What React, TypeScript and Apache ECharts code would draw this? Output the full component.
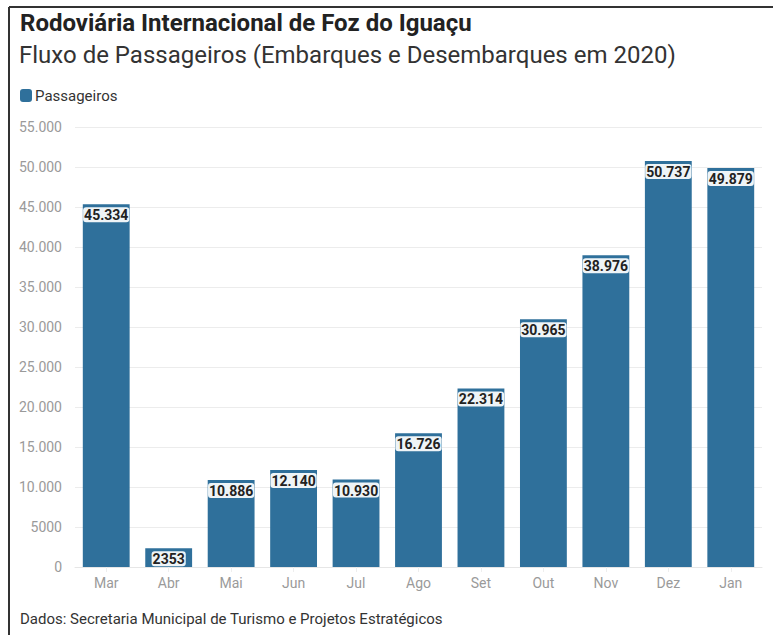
import React, { useEffect, useRef } from "react";
import * as echarts from "echarts";

const months = ["Mar", "Abr", "Mai", "Jun", "Jul", "Ago", "Set", "Out", "Nov", "Dez", "Jan"];
const passageiros = [45334, 2353, 10886, 12140, 10930, 16726, 22314, 30965, 38976, 50737, 49879];
const yTicks = { min: 0, max: 55000, interval: 5000 };

const titleText = "Rodoviária Internacional de Foz do Iguaçu";
const subtitleText = "Fluxo de Passageiros (Embarques e Desembarques em 2020)";
const seriesName = "Passageiros";
const sourceText = "Dados: Secretaria Municipal de Turismo e Projetos Estratégicos";

const BAR = "#2f709b";
const FONT = "Roboto, 'Noto Sans', sans-serif";

function fmt(v: number): string {
  const s = String(Math.round(v));
  if (v < 10000) return s;
  return s.replace(/\B(?=(\d{3})+(?!\d))/g, ".");
}

export default function App() {
  const ref = useRef<HTMLDivElement>(null);
  useEffect(() => {
    document.body.style.margin = "0";
    const chart = echarts.init(ref.current!, null, { renderer: "svg" });
    chart.setOption({
      animation: false,
      backgroundColor: "#ffffff",
      textStyle: { fontFamily: FONT },
      title: [
        {
          text: titleText,
          left: 20,
          top: 11,
          padding: 0,
          textStyle: { fontSize: 24, fontWeight: "bold", color: "#222", fontFamily: FONT },
        },
        {
          text: subtitleText,
          left: 19,
          top: 43,
          padding: 0,
          textStyle: { fontSize: 24, fontWeight: "normal", color: "#333", fontFamily: FONT },
        },
        {
          text: sourceText,
          left: 20,
          top: 611,
          padding: 0,
          textStyle: { fontSize: 15, fontWeight: "normal", color: "#333", fontFamily: FONT },
        },
      ],
      legend: {
        left: 20,
        top: 88,
        padding: 0,
        itemWidth: 12,
        itemHeight: 13,
        itemGap: 10,
        icon: "roundRect",
        textStyle: { fontSize: 15, color: "#333", fontFamily: FONT, padding: [0, 0, 0, -2] },
        data: [seriesName],
      },
      graphic: [
        { type: "line", shape: { x1: 9, y1: 7, x2: 773, y2: 7 }, style: { stroke: "#333", lineWidth: 2 } },
        { type: "line", shape: { x1: 9, y1: 7, x2: 9, y2: 635 }, style: { stroke: "#333", lineWidth: 2 } },
      ],
      grid: { left: 75, right: 11, top: 127, bottom: 68, containLabel: false },
      xAxis: {
        type: "category",
        data: months,
        axisLine: { show: true, lineStyle: { color: "#e6e6e6" } },
        axisTick: { show: true, alignWithLabel: true, length: 5, lineStyle: { color: "#eeeeee" } },
        axisLabel: { color: "#9a9a9a", fontSize: 14, margin: 9, fontFamily: FONT },
      },
      yAxis: {
        type: "value",
        min: yTicks.min,
        max: yTicks.max,
        interval: yTicks.interval,
        axisLine: { show: false },
        axisTick: { show: false },
        splitLine: { lineStyle: { color: "#ececec" } },
        axisLabel: {
          color: "#9a9a9a",
          fontSize: 14,
          margin: 13,
          fontFamily: FONT,
          formatter: (v: number) => fmt(v),
        },
      },
      series: [
        {
          name: seriesName,
          type: "bar",
          data: passageiros,
          barCategoryGap: "25%",
          itemStyle: { color: BAR },
          label: {
            show: true,
            position: "insideTop",
            distance: 3,
            formatter: (p: any) => fmt(p.value),
            color: "#222",
            fontSize: 14,
            fontWeight: "bold",
            fontFamily: FONT,
            backgroundColor: "rgba(255,255,255,0.92)",
            borderRadius: 3,
            padding: [1, 1, 0, 1],
          },
        },
      ],
    });
    return () => chart.dispose();
  }, []);
  return <div ref={ref} style={{ width: 773, height: 635 }} />;
}
